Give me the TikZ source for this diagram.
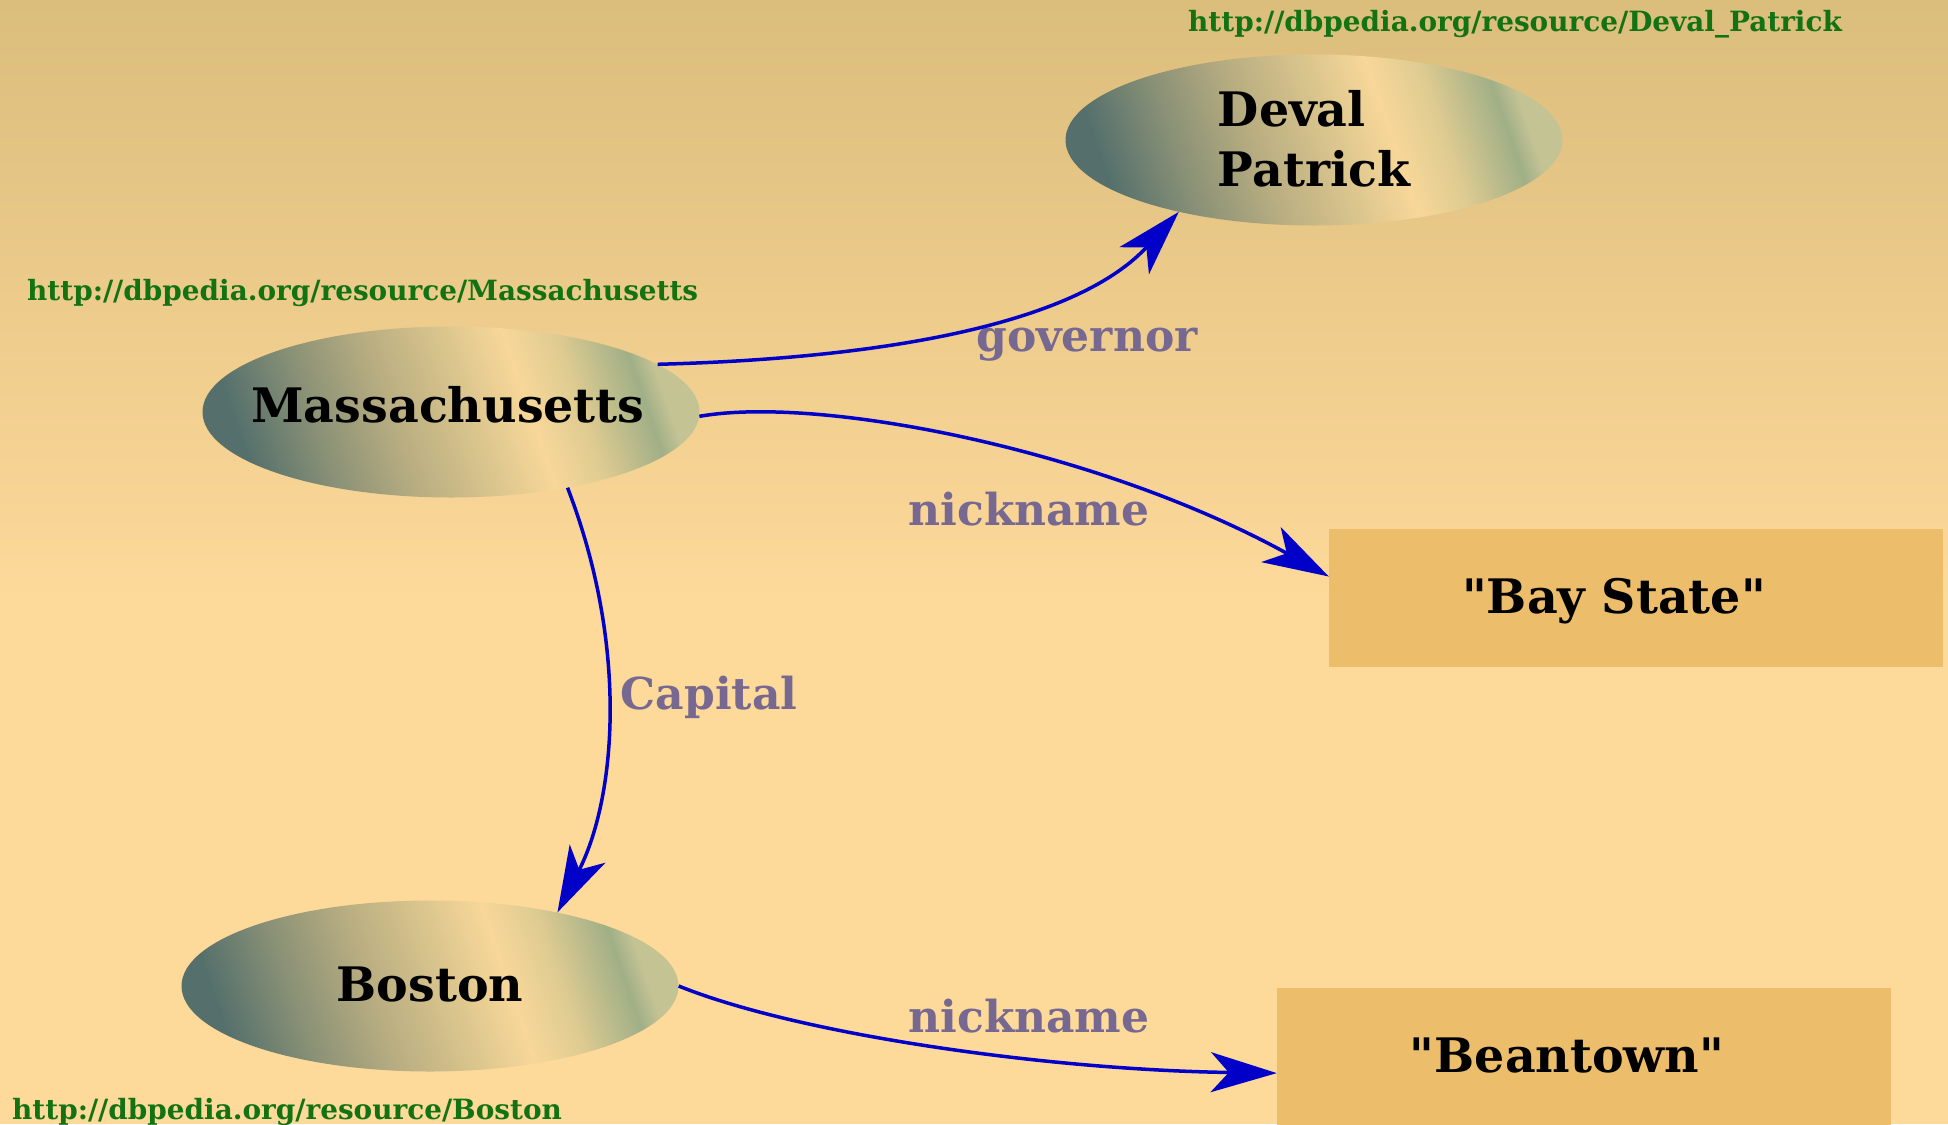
\documentclass[tikz,border=0pt]{standalone}
\usepackage{fontspec}
\setmainfont{DejaVu Serif}
\newfontfamily\litfont{DejaVu Serif}[Ligatures=TeXOff]
\usetikzlibrary{shapes.geometric,arrows.meta}
\definecolor{bgtop}{RGB}{219,189,124}
\definecolor{bgbot}{RGB}{253,217,154}
\definecolor{urlgreen}{RGB}{19,115,19}
\definecolor{lblcol}{RGB}{118,104,145}
\definecolor{litfill}{RGB}{236,190,108}
\definecolor{edgeblue}{RGB}{0,0,200}
\definecolor{shA}{RGB}{85,112,108}
\definecolor{shB}{RGB}{138,145,118}
\definecolor{shC}{RGB}{184,173,129}
\definecolor{shD}{RGB}{218,197,141}
\definecolor{shE}{RGB}{248,215,153}
\definecolor{shF}{RGB}{222,203,145}
\definecolor{shG}{RGB}{160,175,135}
\definecolor{shH}{RGB}{196,195,148}
\pgfdeclarehorizontalshading{resshade}{100bp}{color(0bp)=(shA); color(25bp)=(shA); color(34bp)=(shB); color(43bp)=(shC); color(52bp)=(shD); color(59bp)=(shE); color(65bp)=(shF); color(72.5bp)=(shG); color(75bp)=(shH); color(100bp)=(shH)}
\tikzset{
  resnode/.style={ellipse, shade, shading=resshade, shading angle=19, minimum width=497pt, minimum height=171pt, inner sep=0pt, font=\fontsize{47.5}{60}\selectfont\bfseries},
  litnode/.style={rectangle, fill=litfill, minimum width=614pt, minimum height=138pt, inner sep=0pt, font=\litfont\fontsize{47.5}{56}\selectfont\bfseries},
  urltext/.style={text=urlgreen, inner sep=0pt, anchor=west, font=\fontsize{27.9}{32}\selectfont\bfseries},
  elabel/.style={text=lblcol, inner sep=0pt, font=\fontsize{44}{52}\selectfont\bfseries},
  rel/.style={draw=edgeblue, line width=3.5pt, -{Stealth[length=66pt,width=40pt,inset=18pt]}}
}
\begin{document}
\begin{tikzpicture}[x=1pt,y=1pt]
\useasboundingbox (0,0) rectangle (1948,-1124);
\fill[bgbot] (0,-600) rectangle (1948,-1124);
\shade[top color=bgtop, bottom color=bgbot] (0,0) rectangle (1948,-601);

\node[resnode] (mass) at (451,-412) {\makebox[0pt]{\kern-6pt\raisebox{-10pt}[0pt][0pt]{Massachusetts}}};
\node[resnode] (deval) at (1314,-140) {\makebox[0pt]{\raisebox{14pt}[0pt][0pt]{\begin{tabular}[t]{@{}l@{}}Deval\\Patrick\end{tabular}}}};
\node[resnode] (boston) at (430,-986) {\makebox[0pt]{\raisebox{-15pt}[0pt][0pt]{Boston}}};
\node[litnode] (baystate) at (1636,-598) {\makebox[0pt]{\kern-44pt\raisebox{-15pt}[0pt][0pt]{"Bay State"}}};
\node[litnode] (beantown) at (1584,-1057) {\makebox[0pt]{\kern-34pt\raisebox{-15pt}[0pt][0pt]{"Beantown"}}};

\node[urltext] (urlD) at (1188,-24) {http://dbpedia.org/resource/Deval\_Patrick};
\node[urltext] (urlM) at (27,-293) {http://dbpedia.org/resource/Massachusetts};
\node[urltext] (urlB) at (12,-1112) {http://dbpedia.org/resource/Boston};

\node[elabel] (gov) at (1087,-345) {governor};
\node[elabel] (nick1) at (1029,-509) {nickname};
\node[elabel] (cap) at (709,-697) {Capital};
\node[elabel] (nick2) at (1029,-1016) {nickname};

\draw[rel] (mass.13) .. controls (900,-358) and (1080,-320) .. (deval.208);
\draw[rel] (mass.-1) .. controls (820,-395) and (1100,-450) .. (baystate.176);
\draw[rel] (mass.-33) .. controls (630,-650) and (615,-800) .. (boston.30);
\draw[rel] (boston.east) .. controls (800,-1035) and (1050,-1070) .. (beantown.183);
\end{tikzpicture}
\end{document}
